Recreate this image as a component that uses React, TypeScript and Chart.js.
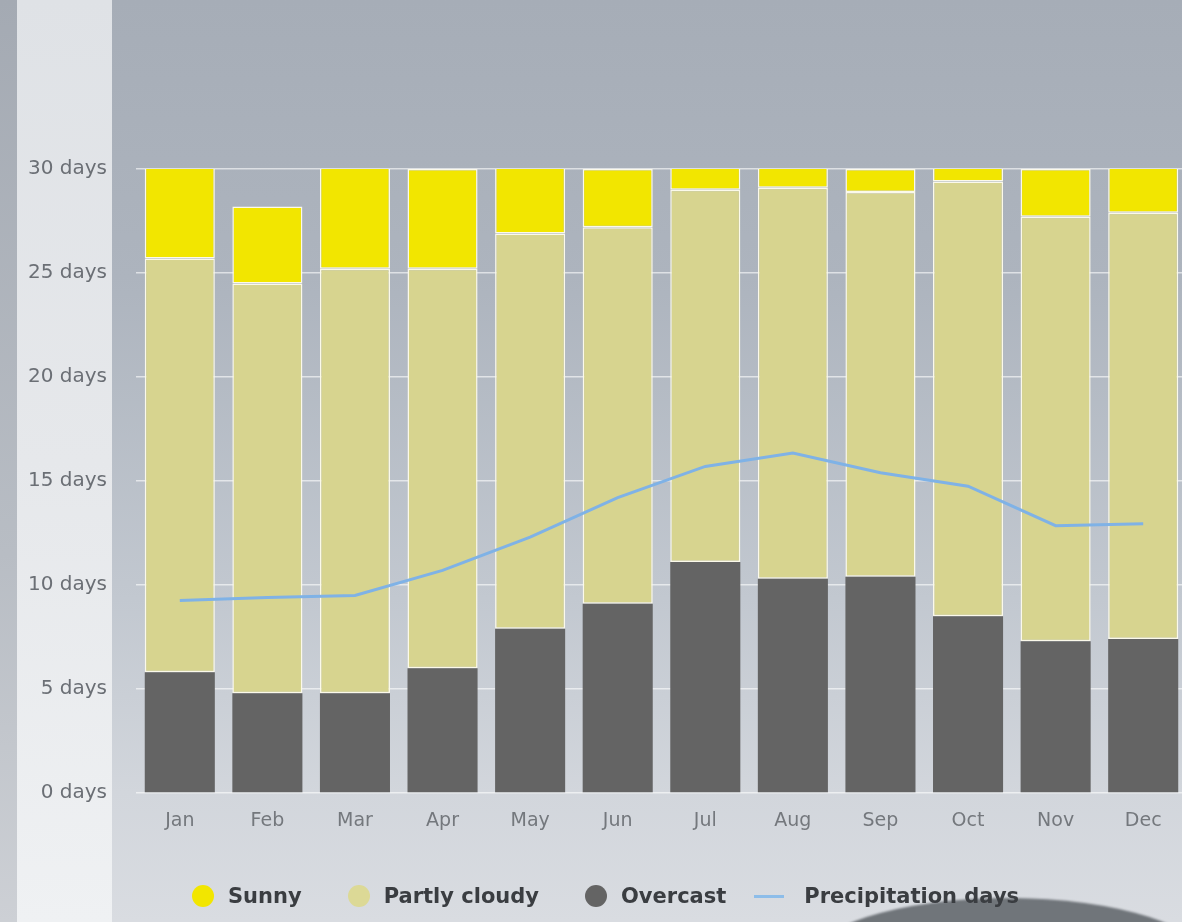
import React, { useEffect, useRef } from "react";
import { Chart, registerables } from "chart.js";

Chart.register(...registerables);

const months = ["Jan", "Feb", "Mar", "Apr", "May", "Jun", "Jul", "Aug", "Sep", "Oct", "Nov", "Dec"];
const overcast = [5.8, 4.8, 4.8, 6.0, 7.9, 9.1, 11.1, 10.3, 10.4, 8.5, 7.3, 7.4];
const partlyCloudy = [19.9, 19.7, 20.4, 19.2, 19.0, 18.1, 17.9, 18.8, 18.5, 20.9, 20.4, 20.5];
const sunny = [5.3, 3.7, 5.8, 4.8, 4.1, 2.8, 2.0, 1.9, 1.1, 1.6, 2.3, 3.1];
const precipitationDays = [9.25, 9.4, 9.5, 10.7, 12.3, 14.2, 15.7, 16.35, 15.4, 14.75, 12.85, 12.95];
const yTicks = [0, 5, 10, 15, 20, 25, 30];

const SUNNY = "#f2e600";
const PARTLY = "#d7d48f";
const OVERCAST = "#646464";
const LINE = "#7fb2e6";
const BORDER = "#fbf9ea";

export default function App() {
  const ref = useRef<HTMLCanvasElement | null>(null);

  useEffect(() => {
    if (!ref.current) return;
    const chart = new Chart(ref.current, {
      type: "bar",
      data: {
        labels: months,
        datasets: [
          {
            type: "line",
            label: "Precipitation days",
            data: precipitationDays,
            borderColor: LINE,
            backgroundColor: LINE,
            borderWidth: 3,
            pointRadius: 0,
            tension: 0,
            stack: "precip",
            order: 0,
          } as any,
          {
            label: "Overcast",
            data: overcast,
            backgroundColor: OVERCAST,
            borderWidth: 0,
            stack: "sky",
            order: 1,
            clip: 0,
          },
          {
            label: "Partly cloudy",
            data: partlyCloudy,
            backgroundColor: PARTLY,
            borderColor: BORDER,
            borderWidth: 1.5,
            borderSkipped: false,
            stack: "sky",
            order: 1,
            clip: 0,
          },
          {
            label: "Sunny",
            data: sunny,
            backgroundColor: SUNNY,
            borderColor: BORDER,
            borderWidth: 1.5,
            borderSkipped: false,
            stack: "sky",
            order: 1,
            clip: 0,
          },
        ],
      },
      options: {
        animation: false,
        responsive: true,
        maintainAspectRatio: false,
        layout: { padding: { top: 169, right: 3, left: 0, bottom: 0 } },
        plugins: {
          legend: { display: false },
          tooltip: { enabled: false },
        },
        datasets: {
          bar: { categoryPercentage: 1, barPercentage: 0.8 },
        },
        scales: {
          x: {
            stacked: true,
            grid: { display: false, drawTicks: false },
            border: { display: false },
            ticks: {
              color: "#74787d",
              font: { family: "DejaVu Sans", size: 19 },
              padding: 17,
              maxRotation: 0,
            },
            afterFit: (s: any) => {
              s.height = 129;
            },
          },
          y: {
            stacked: true,
            min: 0,
            max: 30,
            afterBuildTicks: (s: any) => {
              s.ticks = yTicks.map((v) => ({ value: v }));
            },
            grid: {
              color: "rgba(255,255,255,0.6)",
              lineWidth: 1.5,
              drawTicks: false,
            },
            border: { display: false },
            ticks: {
              color: "#6b6f75",
              font: { family: "DejaVu Sans", size: 20 },
              padding: 29,
              callback: (v: any) => `${v} days`,
            },
            afterFit: (s: any) => {
              s.width = 136;
            },
          },
        },
      },
    });
    return () => chart.destroy();
  }, []);

  const legendItems = [
    { label: "Sunny", color: SUNNY, kind: "circle" },
    { label: "Partly cloudy", color: "#dcd996", kind: "circle" },
    { label: "Overcast", color: OVERCAST, kind: "circle" },
    { label: "Precipitation days", color: "#8dbde9", kind: "line" },
  ];

  return (
    <div
      style={{
        position: "fixed",
        left: 0,
        top: 0,
        width: 1182,
        height: 922,
        overflow: "hidden",
        background: "linear-gradient(180deg, #a6adb7 0%, #adb4be 30%, #c2c8d0 65%, #d2d6dc 86%, #d9dce1 100%)",
      }}
    >
      <div
        style={{
          position: "absolute",
          left: 0,
          top: 0,
          width: 17,
          height: 922,
          background: "linear-gradient(180deg, #a4aab3 0%, #b8bdc4 60%, #cdd0d5 100%)",
        }}
      />
      <div
        style={{
          position: "absolute",
          left: 17,
          top: 0,
          width: 95,
          height: 922,
          background: "linear-gradient(180deg, #dfe2e6 0%, #e6e8eb 50%, #eff1f3 100%)",
        }}
      />
      <div
        style={{
          position: "absolute",
          left: 808,
          top: 898,
          width: 400,
          height: 130,
          borderRadius: "50%",
          background: "#70757a",
          filter: "blur(1px)",
        }}
      />
      <div style={{ position: "absolute", left: 0, top: 0, width: 1190, height: 922 }}>
        <canvas ref={ref} />
      </div>
      <div
        style={{
          position: "absolute",
          left: 192,
          top: 882,
          height: 28,
          display: "flex",
          alignItems: "center",
          fontFamily: "DejaVu Sans",
          fontWeight: "bold",
          fontSize: 21,
          color: "#3a3d41",
          whiteSpace: "nowrap",
        }}
      >
        {legendItems.map((it, i) => (
          <div key={it.label} style={{ display: "flex", alignItems: "center", marginRight: i < 3 ? (i === 2 ? 28 : 46) : 0 }}>
            {it.kind === "circle" ? (
              <span
                style={{
                  display: "inline-block",
                  width: 22,
                  height: 22,
                  borderRadius: "50%",
                  background: it.color,
                  marginRight: 14,
                }}
              />
            ) : (
              <span
                style={{
                  display: "inline-block",
                  width: 30,
                  height: 3,
                  background: it.color,
                  marginRight: 20,
                }}
              />
            )}
            <span>{it.label}</span>
          </div>
        ))}
      </div>
    </div>
  );
}
